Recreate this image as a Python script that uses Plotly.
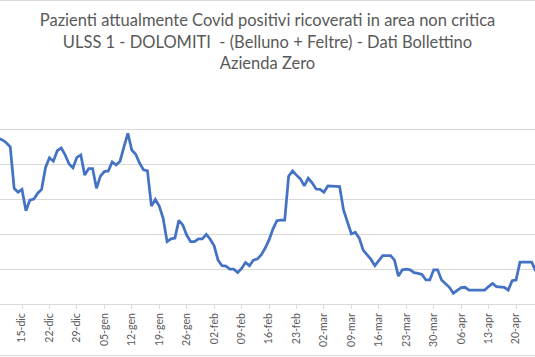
import pandas as pd
import plotly.graph_objects as go

start_date = "2020-12-09"
values = [
    47.5, 47.1, 46.3, 45.1, 33.2, 32.1, 32.9, 26.8, 29.8, 30.1, 31.8, 32.9,
    39.2, 42.0, 41.0, 44.0, 44.8, 42.8, 40.2, 39.1, 42.1, 42.8, 37.0, 38.9,
    38.9, 33.2, 36.7, 38.0, 38.2, 40.8, 39.9, 41.0, 45.1, 49.0, 44.2, 43.0,
    40.4, 38.5, 38.2, 28.1, 30.0, 28.1, 24.6, 17.9, 18.7, 18.9, 24.0, 22.7,
    19.8, 17.9, 17.9, 18.7, 18.7, 20.0, 18.6, 16.7, 12.6, 11.0, 10.9, 10.0,
    10.0, 9.0, 10.2, 11.9, 11.0, 12.6, 12.9, 14.1, 16.0, 18.4, 21.5, 23.9,
    24.1, 24.1, 36.7, 38.2, 37.0, 35.9, 33.9, 36.1, 34.8, 33.0, 32.9, 32.1,
    33.9, 33.9, 33.9, 33.7, 27.0, 23.6, 20.1, 20.6, 18.9, 15.5, 14.1, 12.8,
    11.0, 12.3, 13.9, 13.9, 13.9, 12.6, 8.0, 9.8, 10.0, 9.8, 9.0, 8.8,
    8.5, 6.9, 6.9, 9.8, 9.8, 6.9, 5.9, 4.8, 3.1, 4.0, 4.7, 4.8,
    4.0, 4.0, 4.0, 4.0, 4.0, 5.0, 5.9, 5.0, 5.0, 4.8, 4.0, 6.7,
    6.9, 12.0, 12.0, 12.0, 12.0, 9.5,
]
dates = pd.date_range(start_date, periods=len(values), freq="D")

tick_dates = pd.date_range("2020-12-15", "2021-04-20", freq="7D")
tick_labels = [
    "15-dic", "22-dic", "29-dic", "05-gen", "12-gen", "19-gen", "26-gen",
    "02-feb", "09-feb", "16-feb", "23-feb", "02-mar", "09-mar", "16-mar",
    "23-mar", "30-mar", "06-apr", "13-apr", "20-apr",
]

title_text = ("Pazienti attualmente Covid positivi ricoverati in area non critica<br>"
              "ULSS 1 - DOLOMITI  - (Belluno + Feltre) - Dati Bollettino<br>"
              "Azienda Zero")

FONT = "Lato, 'Open Sans', sans-serif"
GREY = "#595959"
GRID = "#d9d9d9"

fig = go.Figure()
fig.add_trace(go.Scatter(
    x=dates, y=values, mode="lines",
    line=dict(color="#4472c4", width=2.75),
    hoverinfo="skip", showlegend=False,
))

fig.update_layout(
    width=535, height=357,
    margin=dict(l=0, r=0, t=95, b=53, autoexpand=False),
    paper_bgcolor="white", plot_bgcolor="white",
    title=dict(text=title_text, x=0.5, xanchor="center", y=0.927, yanchor="top",
               font=dict(family=FONT, size=16.5, color=GREY)),
    font=dict(family=FONT, color=GREY),
    xaxis=dict(
        type="date", automargin=False,
        range=["2020-12-09 09:20", "2021-04-24 20:00"],
        tickmode="array", tickvals=tick_dates, ticktext=tick_labels,
        tickangle=-90, tickfont=dict(size=10.5, color=GREY),
        showgrid=False, showline=True, linecolor=GRID, linewidth=1,
        ticks="outside", ticklen=4, tickcolor=GRID,
        zeroline=False,
    ),
    yaxis=dict(
        range=[0, 60], dtick=10, automargin=False,
        showgrid=True, gridcolor=GRID, gridwidth=1,
        showticklabels=False, zeroline=False, showline=False,
    ),
    shapes=[
        dict(type="line", xref="paper", yref="paper", x0=0, x1=1,
             y0=1 + 94.5 / 209, y1=1 + 94.5 / 209, line=dict(color=GRID, width=1)),
        dict(type="line", xref="paper", yref="paper", x0=0, x1=1,
             y0=-51.5 / 209, y1=-51.5 / 209, line=dict(color=GRID, width=1)),
    ],
)

fig.write_html("out.html",
               config={"displayModeBar": False},
               post_script="document.body.style.margin='0';document.body.style.overflow='hidden';")
